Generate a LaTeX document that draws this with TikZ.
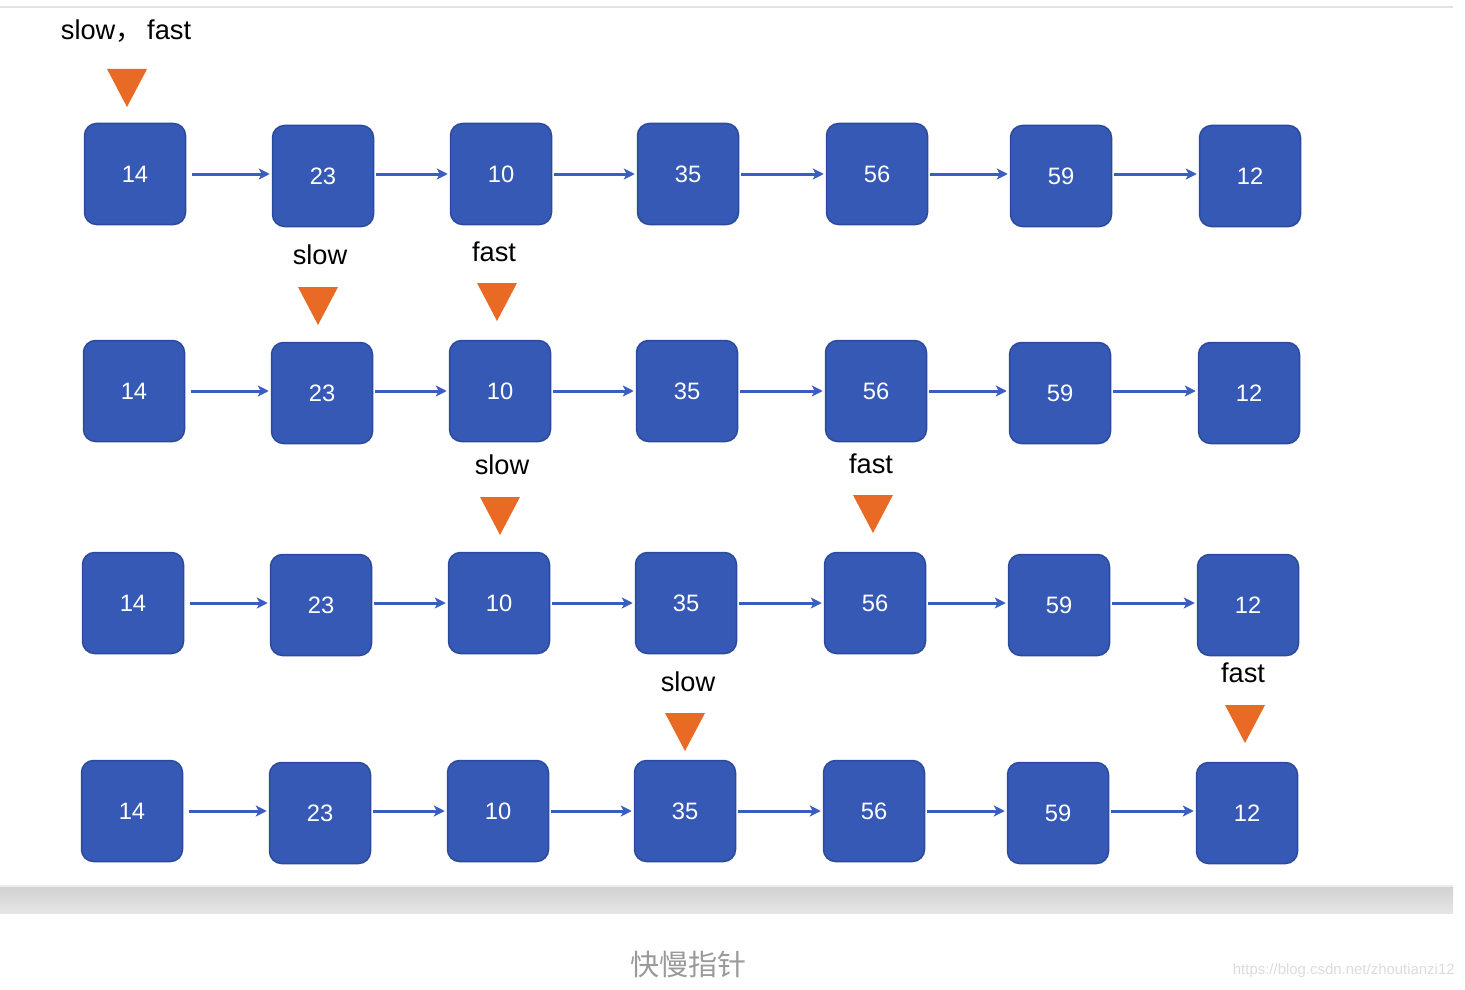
\documentclass[tikz,border=0pt]{standalone}
\usepackage{fontspec}
\setmainfont{Liberation Sans}
\newfontfamily\cjkfont{Noto Sans CJK SC}
\usetikzlibrary{arrows.meta, positioning}
\definecolor{nodeBlue}{HTML}{3559B4}
\definecolor{nodeEdge}{HTML}{2B4A9C}
\definecolor{linkBlue}{HTML}{3A5DC2}
\definecolor{ptrOrange}{HTML}{E86A24}
\definecolor{lineGray}{HTML}{E2E2E2}
\definecolor{capGray}{HTML}{9A9A9A}
\definecolor{markGray}{HTML}{DCDCDC}
\tikzset{
  boxN/.style={rectangle, rounded corners=2.4mm, draw=nodeEdge, fill=nodeBlue,
               line width=0.3mm, text=white, minimum width=20.2mm,
               minimum height=20.2mm, inner sep=0pt, font=\fontsize{13.5}{16}\selectfont},
  link/.style={-{Stealth[length=2.2mm, width=2.2mm, inset=0.6mm]}, linkBlue,
               line width=0.6mm, shorten <=0.3mm, shorten >=0.4mm},
  ptrLabel/.style={inner sep=0pt, text=black, font=\fontsize{15.5}{18}\selectfont},
  ptr/.style={fill=ptrOrange},
}

\begin{document}
\begin{tikzpicture}[x=0.2mm, y=-0.2mm]
    \useasboundingbox[fill=white] (0,0) rectangle (1465,990);
    % frame of the page
    \draw[lineGray, line width=0.4mm] (0,7) -- (1453,7);
    \shade[top color=black!18, bottom color=black!10] (0,886) rectangle (1453,913);
    \draw[black!8, line width=0.3mm] (0,886) -- (1453,886);

    % the four lists
    \foreach \r/\y in {1/174,2/391,3/603,4/811}{
      \foreach \v/\x/\d [count=\c] in {14/135/0,23/323/2,10/501/0,35/688/0,56/877/0,59/1061/2,12/1250/2}
        \node[boxN] (n\r\c) at (\x-\r+1,\y+\d) {\v};
    }
    \foreach \r in {1,...,4}{
      \draw[link, shorten <=1.2mm] (n\r1.east) -- (n\r1.east -| n\r2.west);
      \foreach \c in {2,...,6}{
        \pgfmathtruncatemacro{\n}{\c+1}
        \draw[link] (n\r\c.east |- n\r1) -- (n\r\n.west |- n\r1);
      }
    }

    % pointers
    \node[ptrLabel] (p0) at (126,31) {slow{\cjkfont ，}\,fast};
    \node[ptrLabel] (s1) at (320,255) {slow};
    \node[ptrLabel] (f1) at (494,252) {fast};
    \node[ptrLabel] (s2) at (502,465) {slow};
    \node[ptrLabel] (f2) at (871,464) {fast};
    \node[ptrLabel] (s3) at (688,682) {slow};
    \node[ptrLabel] (f3) at (1243,673) {fast};
    \foreach \t/\x/\y in {t0/127/69, ts1/318/287, tf1/497/283, ts2/500/497,
                          tf2/873/495, ts3/685/713, tf3/1245/705}{
      \coordinate (\t) at (\x,\y);
      \fill[ptr] (\t) ++(-20,0) -- ++(40,0) -- ++(-20,38) -- cycle;
    }

    % caption
    \node[text=capGray, font=\cjkfont\fontsize{16.5}{20}\selectfont] (cap) at (688,965) {快慢指针};
    \node[text=markGray, anchor=east, inner sep=0pt, font=\fontsize{8.5}{10}\selectfont] (url) at (1455,971) {https://blog.csdn.net/zhoutianzi12};
  \end{tikzpicture}
\end{document}
